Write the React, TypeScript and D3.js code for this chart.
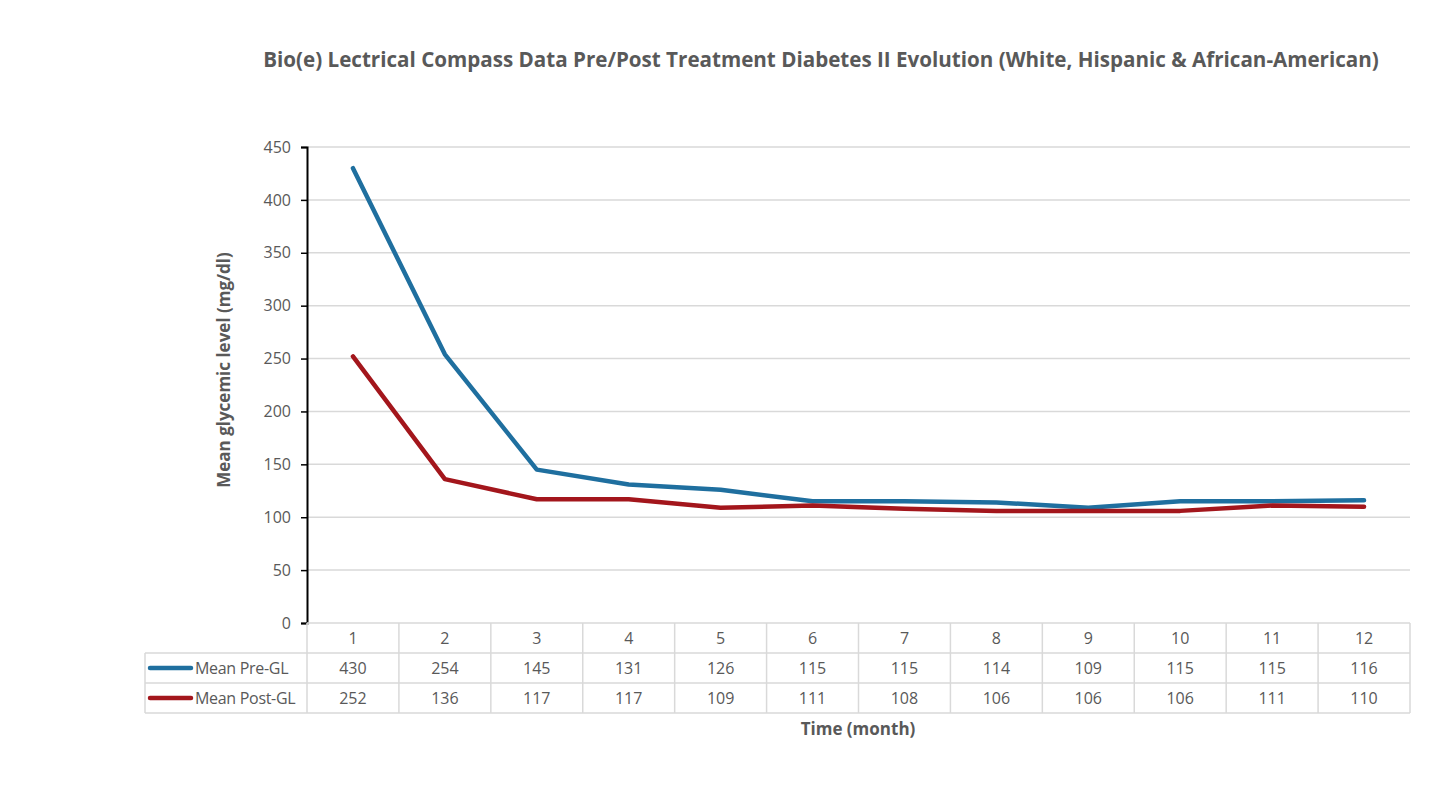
import React, { useEffect, useRef } from 'react';
import * as d3 from 'd3';

const months = ['1', '2', '3', '4', '5', '6', '7', '8', '9', '10', '11', '12'];
const preGL = [430, 254, 145, 131, 126, 115, 115, 114, 109, 115, 115, 116];
const postGL = [252, 136, 117, 117, 109, 111, 108, 106, 106, 106, 111, 110];
const yTicks = [0, 50, 100, 150, 200, 250, 300, 350, 400, 450];

const seriesList = [
  { name: 'Mean Pre-GL', values: preGL, color: '#1f6f9f' },
  { name: 'Mean Post-GL', values: postGL, color: '#a3161c' },
];

const FONT = "'Open Sans', sans-serif";
const TEXT = '#595959';

function App() {
  const chartRef = useRef<HTMLDivElement>(null);

  useEffect(() => {
    const W = 1432;
    const H = 811;
    const left = 307;
    const right = 1410;
    const top = 147;
    const bottom = 623;
    const rowH = 30;

    d3.select(chartRef.current).select('svg').remove();

    const svg = d3
      .select(chartRef.current)
      .append('svg')
      .attr('width', W)
      .attr('height', H)
      .style('display', 'block')
      .style('font-family', FONT);

    svg.append('rect').attr('width', W).attr('height', H).attr('fill', '#fff');

    const x = d3.scaleBand().domain(months).range([left, right]);
    const y = d3.scaleLinear().domain([0, 450]).range([bottom, top]);

    // gridlines
    svg
      .append('g')
      .selectAll('line')
      .data(yTicks.slice(1))
      .join('line')
      .attr('x1', left)
      .attr('x2', right)
      .attr('y1', (d) => y(d))
      .attr('y2', (d) => y(d))
      .attr('stroke', '#d9d9d9')
      .attr('stroke-width', 1.5);

    // y axis
    const yAxis = svg
      .append('g')
      .attr('transform', `translate(${left},0)`)
      .call(d3.axisLeft(y).tickValues(yTicks).tickSize(6).tickPadding(10));
    yAxis.select('.domain').attr('stroke', '#000').attr('stroke-width', 2);
    yAxis.selectAll('.tick line').attr('stroke', '#000').attr('stroke-width', 1.5);
    yAxis
      .selectAll('.tick text')
      .attr('fill', TEXT)
      .style('font-family', FONT)
      .style('font-size', '16px');

    // lines
    const line = d3
      .line<number>()
      .x((d, i) => (x(months[i]) as number) + x.bandwidth() / 2)
      .y((d) => y(d));

    seriesList.forEach((s) => {
      svg
        .append('path')
        .datum(s.values)
        .attr('fill', 'none')
        .attr('stroke', s.color)
        .attr('stroke-width', 4.5)
        .attr('stroke-linejoin', 'round')
        .attr('stroke-linecap', 'round')
        .attr('d', line);
    });

    // data table
    const tableLeft = 145;
    const grid = svg.append('g').attr('stroke', '#d9d9d9').attr('stroke-width', 1.5).attr('fill', 'none');
    grid.append('line').attr('x1', left).attr('x2', right).attr('y1', bottom).attr('y2', bottom);
    [1, 2, 3].forEach((r) => {
      grid
        .append('line')
        .attr('x1', tableLeft)
        .attr('x2', right)
        .attr('y1', bottom + r * rowH)
        .attr('y2', bottom + r * rowH);
    });
    months.forEach((m) => {
      const xx = x(m) as number;
      grid
        .append('line')
        .attr('x1', xx)
        .attr('x2', xx)
        .attr('y1', bottom)
        .attr('y2', bottom + 3 * rowH);
    });
    grid.append('line').attr('x1', right).attr('x2', right).attr('y1', bottom).attr('y2', bottom + 3 * rowH);
    grid.append('line').attr('x1', tableLeft).attr('x2', tableLeft).attr('y1', bottom + rowH).attr('y2', bottom + 3 * rowH);

    // header row
    svg
      .append('g')
      .selectAll('text')
      .data(months)
      .join('text')
      .attr('x', (d) => (x(d) as number) + x.bandwidth() / 2)
      .attr('y', bottom + rowH / 2)
      .attr('dy', '0.35em')
      .attr('text-anchor', 'middle')
      .attr('fill', TEXT)
      .style('font-size', '16px')
      .text((d) => d);

    seriesList.forEach((s, si) => {
      const cy = bottom + rowH * (si + 1) + rowH / 2;
      svg
        .append('line')
        .attr('x1', 150)
        .attr('x2', 191)
        .attr('y1', cy)
        .attr('y2', cy)
        .attr('stroke', s.color)
        .attr('stroke-width', 4.5)
        .attr('stroke-linecap', 'round');
      svg
        .append('text')
        .attr('x', 195)
        .attr('y', cy)
        .attr('dy', '0.35em')
        .attr('fill', TEXT)
        .style('font-size', '16px')
        .style('letter-spacing', '-0.3px')
        .text(s.name);
      svg
        .append('g')
        .selectAll('text')
        .data(s.values)
        .join('text')
        .attr('x', (d, i) => (x(months[i]) as number) + x.bandwidth() / 2)
        .attr('y', cy)
        .attr('dy', '0.35em')
        .attr('text-anchor', 'middle')
        .attr('fill', TEXT)
        .style('font-size', '16px')
        .text((d) => d);
    });

    // titles
    svg
      .append('text')
      .attr('x', 821)
      .attr('y', 60)
      .attr('dy', '0.35em')
      .attr('text-anchor', 'middle')
      .attr('fill', TEXT)
      .style('font-size', '20.6px')
      .style('font-weight', 'bold')
      .text('Bio(e) Lectrical Compass Data Pre/Post Treatment Diabetes II Evolution (White, Hispanic & African-American)');

    svg
      .append('text')
      .attr('transform', `translate(224,${(top + bottom) / 2 - 15}) rotate(-90)`)
      .attr('dy', '0.35em')
      .attr('text-anchor', 'middle')
      .attr('fill', TEXT)
      .style('font-size', '17px')
      .style('font-weight', 'bold')
      .text('Mean glycemic level (mg/dl)');

    svg
      .append('text')
      .attr('x', 858)
      .attr('y', 729)
      .attr('dy', '0.35em')
      .attr('text-anchor', 'middle')
      .attr('fill', TEXT)
      .style('font-size', '17px')
      .style('font-weight', 'bold')
      .text('Time (month)');
  }, []);

  return (
    <div style={{ position: 'fixed', left: 0, top: 0 }}>
      <div ref={chartRef}></div>
    </div>
  );
}

export default App;
